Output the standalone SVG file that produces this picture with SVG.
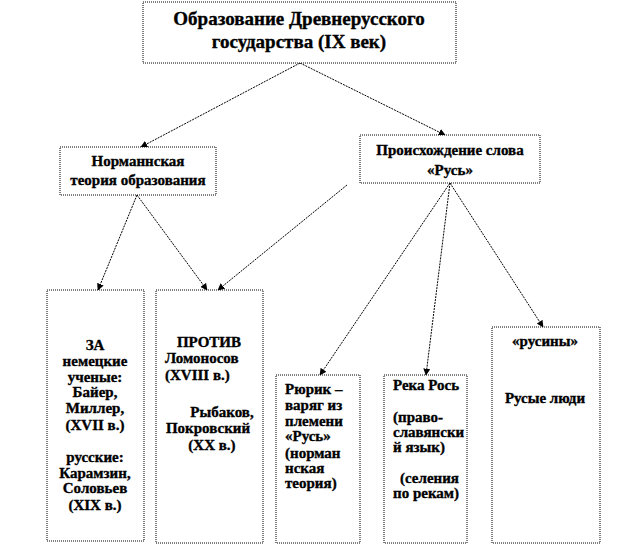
<svg xmlns="http://www.w3.org/2000/svg" width="624" height="546" viewBox="0 0 624 546">
<style>
.box{fill:#fff;stroke:#000;stroke-width:1;stroke-dasharray:1 1}
.t{font-family:"Liberation Serif","Times New Roman",serif;font-weight:bold;font-size:15px;fill:#000;stroke:#000;stroke-width:0.35}
.c{text-anchor:middle}
.h{font-size:19px}
.ln{stroke:#000;stroke-width:1;fill:none;stroke-dasharray:2 1;marker-end:url(#ah)}
</style>
<defs>
<marker id="ah" viewBox="0 0 10 10" refX="9" refY="5" markerWidth="7" markerHeight="7" markerUnits="userSpaceOnUse" orient="auto">
<path d="M0,0 L10,5 L0,10 z" fill="#000"/>
</marker>
</defs>
<rect width="624" height="546" fill="#fff"/>
<g id="connectors">
<line class="ln" x1="300" y1="63" x2="141" y2="147"/>
<line class="ln" x1="300" y1="63" x2="445" y2="135"/>
<line class="ln" x1="137" y1="195" x2="98" y2="290"/>
<line class="ln" x1="137" y1="195" x2="207" y2="290"/>
<line class="ln" x1="347" y1="185" x2="218" y2="290"/>
<line class="ln" x1="450" y1="183" x2="320" y2="375"/>
<line class="ln" x1="450" y1="183" x2="426" y2="375"/>
<line class="ln" x1="450" y1="183" x2="543" y2="327"/>
</g>
<g id="top">
<rect class="box" x="143" y="2" width="313" height="61"/>
<text class="t c h" x="299" y="25">Образование Древнерусского</text>
<text class="t c h" x="299" y="48">государства (IX век)</text>
</g>
<g id="norman">
<rect class="box" x="60" y="147" width="156" height="48"/>
<text class="t c" x="138" y="166">Норманнская</text>
<text class="t c" x="138" y="185">теория образования</text>
</g>
<g id="origin">
<rect class="box" x="360" y="135" width="180" height="48"/>
<text class="t c" x="450" y="155">Происхождение слова</text>
<text class="t c" x="450" y="175">«Русь»</text>
</g>
<g id="za">
<rect class="box" x="47" y="290" width="97" height="251"/>
<text class="t c" x="95" y="350">ЗА</text>
<text class="t c" x="95" y="366">немецкие</text>
<text class="t c" x="95" y="382">ученые:</text>
<text class="t c" x="95" y="397">Байер,</text>
<text class="t c" x="95" y="413">Миллер,</text>
<text class="t c" x="95" y="430">(XVII в.)</text>
<text class="t c" x="95" y="462">русские:</text>
<text class="t c" x="95" y="478">Карамзин,</text>
<text class="t c" x="95" y="493">Соловьев</text>
<text class="t c" x="95" y="510">(XIX в.)</text>
</g>
<g id="protiv">
<rect class="box" x="156" y="290" width="107" height="253"/>
<text class="t c" x="209" y="347">ПРОТИВ</text>
<text class="t" x="165" y="363">Ломоносов</text>
<text class="t" x="165" y="380">(XVIII в.)</text>
<text class="t c" x="222" y="417">Рыбаков,</text>
<text class="t c" x="208" y="433">Покровский</text>
<text class="t c" x="212" y="450">(XX в.)</text>
</g>
<g id="rurik">
<rect class="box" x="276" y="375" width="84" height="168"/>
<text class="t" x="285" y="394">Рюрик –</text>
<text class="t" x="285" y="410">варяг из</text>
<text class="t" x="285" y="426">племени</text>
<text class="t" x="285" y="441">«Русь»</text>
<text class="t" x="285" y="458">(норман</text>
<text class="t" x="285" y="473">нская</text>
<text class="t" x="285" y="488">теория)</text>
</g>
<g id="reka">
<rect class="box" x="384" y="375" width="83" height="168"/>
<text class="t" x="393" y="390">Река Рось</text>
<text class="t" x="393" y="422">(право-</text>
<text class="t" x="393" y="437">славянски</text>
<text class="t" x="393" y="452">й язык)</text>
<text class="t" x="400" y="483">(селения</text>
<text class="t" x="393" y="498">по рекам)</text>
</g>
<g id="rusiny">
<rect class="box" x="492" y="327" width="108" height="216"/>
<text class="t c" x="545" y="346">«русины»</text>
<text class="t c" x="545" y="403">Русые люди</text>
</g>
</svg>
